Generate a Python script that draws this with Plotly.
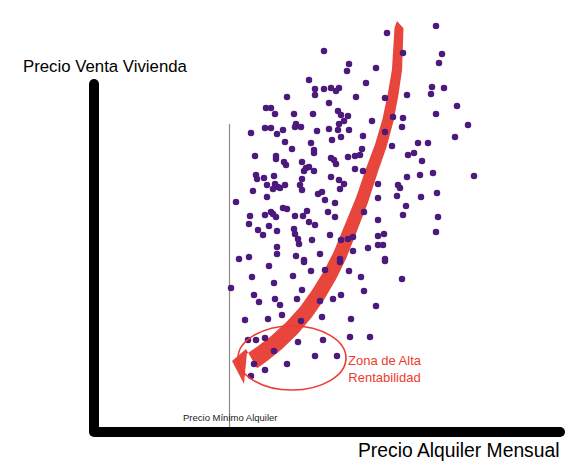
import numpy as np
import plotly.graph_objects as go

# ---- data (in picture units: x right, y down) ----
dots_x = [324,349,347,309,315,324,331,339,336,315,287,329,266,271,275,294,313,338,341,348,
          296,295,301,344,339,265,271,283,329,338,349,251,277,317,341,332,285,311,292,314,
          387,436,
          403,442,439,376,366,432,444,431,407,356,385,457,436,393,403,372,468,402,385,363,
          455,418,428,392,362,
          255,276,276,314,331,334,336,284,286,302,306,309,304,314,348,256,257,264,274,331,
          302,339,344,267,275,278,273,280,285,300,302,340,253,318,322,267,325,236,335,283,
          287,307,271,273,276,250,265,295,303,328,335,309,315,249,269,258,277,294,295,298,
          330,263,299,312,341,348,277,277,296,320,249,239,304,340,
          355,360,408,414,422,355,363,407,420,433,474,378,398,400,397,421,437,378,406,364,
          403,438,378,384,378,436,353,368,378,383,353,385,
          269,304,340,252,274,293,311,325,349,231,254,259,275,280,302,297,320,333,341,245,
          268,282,301,322,351,248,256,265,298,323,274,315,337,254,265,287,251,
          385,361,402,364,376,350,370]
dots_y = [51,64,71,80,89,89,88,88,91,95,97,103,108,108,114,114,114,111,115,116,
          124,127,127,121,124,128,128,130,129,130,130,133,134,131,137,140,142,143,149,150,
          33,26,
          53,54,63,68,83,87,88,94,95,97,98,106,114,117,118,121,125,127,132,136,
          137,143,143,146,149,
          156,156,159,153,158,160,164,162,165,162,168,167,171,171,157,175,179,178,176,177,
          179,180,184,185,184,187,189,188,185,185,190,189,191,194,192,197,200,202,203,208,
          209,211,212,214,217,216,215,216,216,212,217,222,225,224,226,230,231,229,234,239,
          235,235,244,240,240,239,247,254,256,254,257,259,260,259,
          156,155,155,153,161,169,171,177,175,173,176,184,185,188,196,197,193,198,206,212,
          215,217,220,234,236,232,237,248,245,245,251,259,
          266,262,262,277,283,276,271,270,271,288,295,302,299,305,290,299,301,299,295,320,
          319,315,321,317,319,340,340,338,342,340,351,356,356,364,370,364,376,
          261,277,279,291,306,337,337]

# centre line of the curved red arrow (top -> bottom-left)
arrow_x = [399,398,397,393,388,381,372,362,349,340,330,318,306,292,276,262,252]
arrow_y = [28,45,70,95,120,145,170,200,233,255,275,295,312,328,343,354,361]

title_text = "Precio Venta Vivienda"
xlabel_text = "Precio Alquiler Mensual"
min_text = "Precio Mínimo Alquiler"
zone_text = "Zona de Alta<br>Rentabilidad"

RED = "#ee3b30"
BAND = "#e8453c"
PURPLE = "#4b1a7c"
FONT = "Liberation Sans, Arial, Helvetica, sans-serif"

# ---- build arrow polygon ----
cx = np.array(arrow_x, float)
cy = np.array(arrow_y, float)
tx = np.gradient(cx)
ty = np.gradient(cy)
n = np.hypot(tx, ty)
tx, ty = tx / n, ty / n
nx, ny = -ty, tx
hw = np.linspace(4.5, 9, len(cx))
lx, ly = cx + nx * hw, cy + ny * hw   # one side
rx, ry = cx - nx * hw, cy - ny * hw   # other side

# head at bottom-left and pointed top
poly_x = list(lx) + [244, 232, 246] + list(rx[::-1]) + [397]
poly_y = list(ly) + [384, 361, 349] + list(ry[::-1]) + [21]

fig = go.Figure()
fig.add_trace(go.Scatter(x=poly_x, y=poly_y, fill="toself", fillcolor=BAND,
                         mode="lines", line=dict(width=0, color=BAND),
                         hoverinfo="skip", showlegend=False))
fig.add_trace(go.Scatter(x=dots_x, y=dots_y, mode="markers",
                         marker=dict(size=6.5, color=PURPLE, line=dict(width=0)),
                         showlegend=False, hoverinfo="skip"))

shapes = []
# thick black axes with rounded ends
shapes.append(dict(type="rect", x0=89, x1=99, y0=84, y1=432, fillcolor="black", line=dict(width=0), layer="below"))
shapes.append(dict(type="rect", x0=94, x1=560, y0=427, y1=437, fillcolor="black", line=dict(width=0), layer="below"))
for (ccx, ccy) in [(94, 84), (94, 432), (560, 432)]:
    shapes.append(dict(type="circle", x0=ccx - 5, x1=ccx + 5, y0=ccy - 5, y1=ccy + 5,
                       fillcolor="black", line=dict(width=0), layer="below"))
# thin minimum rent line
shapes.append(dict(type="line", x0=229.5, x1=229.5, y0=124, y1=427,
                   line=dict(color="#8a8a8a", width=1.2), layer="below"))
# ellipse
shapes.append(dict(type="circle", x0=238, x1=346, y0=326, y1=390,
                   line=dict(color=RED, width=1.6), layer="above"))

annotations = [
    dict(x=21, y=66, text=title_text, xanchor="left", yanchor="middle", showarrow=False,
         font=dict(family=FONT, size=16.8, color="black")),
    dict(x=561, y=450, text=xlabel_text, xanchor="right", yanchor="middle", showarrow=False,
         font=dict(family=FONT, size=19.3, color="black")),
    dict(x=230, y=417, text=min_text, xanchor="center", yanchor="middle", showarrow=False,
         font=dict(family=FONT, size=9.5, color="#222")),
    dict(x=385, y=369, text=zone_text, xanchor="center", yanchor="middle", showarrow=False,
         font=dict(family=FONT, size=13, color=RED)),
]

fig.update_layout(
    width=567, height=463, margin=dict(l=0, r=0, t=0, b=0),
    paper_bgcolor="white", plot_bgcolor="white",
    xaxis=dict(range=[0, 567], visible=False, fixedrange=True),
    yaxis=dict(range=[463, 0], visible=False, fixedrange=True),
    shapes=shapes, annotations=annotations, showlegend=False,
)
fig.write_html("out.html", config={"displayModeBar": False})

# remove the default page margin so the figure sits at the window's top-left
with open("out.html", encoding="utf-8") as f:
    html = f.read()
html = html.replace("<body>", '<body style="margin:0;padding:0;overflow:hidden">', 1)
with open("out.html", "w", encoding="utf-8") as f:
    f.write(html)
